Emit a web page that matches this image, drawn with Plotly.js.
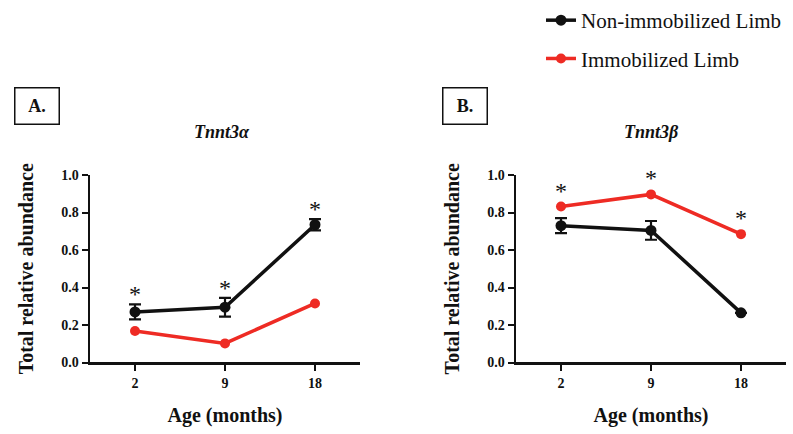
<!DOCTYPE html>
<html><head><meta charset="utf-8">
<script src="https://cdn.plot.ly/plotly-3.0.1.min.js"></script>
<style>html,body{margin:0;padding:0;background:#fff}#chart{width:793px;height:434px}</style>
</head><body><div id="chart"></div>
<script>
const ages = ['2', '9', '18'];
// Panel A: Tnnt3α
const aNonImm = [0.27, 0.295, 0.735];
const aNonImmErr = [0.04, 0.05, 0.03];
const aImm = [0.168, 0.102, 0.315];
const aSig = [true, true, true];
// Panel B: Tnnt3β
const bNonImm = [0.73, 0.705, 0.265];
const bNonImmErr = [0.04, 0.05, 0];
const bImm = [0.832, 0.897, 0.685];
const bSig = [true, true, true];

const seriesNames = ['Non-immobilized Limb', 'Immobilized Limb'];
const panelTitles = ['Tnnt3α', 'Tnnt3β'];
const panelLabels = ['A.', 'B.'];

const FONT = '"Times New Roman", "Liberation Serif", serif';
const BLACK = '#111111', RED = '#ee2b24';

function pair(xa, ya, non, nonErr, imm, showLeg) {
  return [
    {x: ages, y: imm, xaxis: xa, yaxis: ya, type: 'scatter', mode: 'lines+markers',
     name: seriesNames[1], legendgroup: 'imm', legendrank: 2, showlegend: showLeg,
     line: {color: RED, width: 3.5}, marker: {color: RED, size: 10}},
    {x: ages, y: non, xaxis: xa, yaxis: ya, type: 'scatter', mode: 'lines+markers',
     name: seriesNames[0], legendgroup: 'non', legendrank: 1, showlegend: showLeg,
     line: {color: BLACK, width: 3.5}, marker: {color: BLACK, size: 11},
     error_y: {type: 'data', array: nonErr, visible: true, color: BLACK, thickness: 2.2, width: 6}}
  ];
}

const data = [].concat(
  pair('x', 'y', aNonImm, aNonImmErr, aImm, true),
  pair('x2', 'y2', bNonImm, bNonImmErr, bImm, false)
);

function stars(xref, yref, sig, non, nonErr, imm) {
  const out = [];
  sig.forEach((s, i) => {
    if (!s) return;
    const topNon = non[i] + nonErr[i];
    const top = Math.max(topNon, imm[i]);
    const fromErr = topNon >= imm[i];
    out.push({xref: xref, yref: yref, x: i, y: top, text: '*', showarrow: false,
      xanchor: 'center', yanchor: 'middle', yshift: fromErr ? 10 : 16,
      font: {family: FONT, size: 24, color: BLACK}});
  });
  return out;
}

const annotations = [].concat(
  stars('x', 'y', aSig, aNonImm, aNonImmErr, aImm),
  stars('x2', 'y2', bSig, bNonImm, bNonImmErr, bImm),
  [
    {xref: 'paper', yref: 'paper', x: 222/793, y: 1 - 130/434, xanchor: 'center', yanchor: 'middle',
     text: '<b><i>' + panelTitles[0] + '</i></b>',
     showarrow: false, font: {family: FONT, size: 18, color: BLACK}},
    {xref: 'paper', yref: 'paper', x: 651/793, y: 1 - 130/434, xanchor: 'center', yanchor: 'middle',
     text: '<b><i>' + panelTitles[1] + '</i></b>',
     showarrow: false, font: {family: FONT, size: 18, color: BLACK}},
    {xref: 'paper', yref: 'paper', x: 36.5/793, y: 1 - 104/434, xanchor: 'center', yanchor: 'middle',
     text: '<b>' + panelLabels[0] + '</b>',
     showarrow: false, width: 41, height: 33, bordercolor: BLACK, borderwidth: 1.5, borderpad: 1,
     font: {family: FONT, size: 18, color: BLACK}},
    {xref: 'paper', yref: 'paper', x: 465/793, y: 1 - 104/434, xanchor: 'center', yanchor: 'middle',
     text: '<b>' + panelLabels[1] + '</b>',
     showarrow: false, width: 41, height: 33, bordercolor: BLACK, borderwidth: 1.5, borderpad: 1,
     font: {family: FONT, size: 18, color: BLACK}}
  ]
);

function xax(dom, anchor) {
  return {domain: dom, anchor: anchor, type: 'category', range: [-0.5, 2.5], fixedrange: true,
    showline: true, linecolor: BLACK, linewidth: 2.5, ticks: 'outside', ticklen: 6, tickwidth: 2,
    tickcolor: BLACK, showgrid: false, zeroline: false, automargin: false,
    tickfont: {family: FONT, size: 14, color: BLACK, weight: 'bold'},
    title: {text: 'Age (months)', standoff: 18, font: {family: FONT, size: 20, color: BLACK, weight: 'bold'}}};
}
function yax(anchor) {
  return {domain: [1 - 362/434, 1 - 173.3/434], anchor: anchor, range: [0, 1], dtick: 0.2,
    tickformat: '.1f', fixedrange: true,
    showline: true, linecolor: BLACK, linewidth: 2.5, ticks: 'outside', ticklen: 6, tickwidth: 2,
    tickcolor: BLACK, showgrid: false, zeroline: false, automargin: false,
    tickfont: {family: FONT, size: 14, color: BLACK, weight: 'bold'},
    title: {text: 'Total relative abundance', standoff: 22, font: {family: FONT, size: 20, color: BLACK, weight: 'bold'}}};
}

const layout = {
  width: 793, height: 434, margin: {l: 0, r: 0, t: 0, b: 0},
  paper_bgcolor: '#fff', plot_bgcolor: '#fff',
  xaxis: xax([90/793, 360/793], 'y'),
  yaxis: yax('x'),
  xaxis2: xax([516/793, 786/793], 'y2'),
  yaxis2: yax('x2'),
  showlegend: true,
  legend: {x: 541/793, y: 1 + 3/434, xanchor: 'left', yanchor: 'top', traceorder: 'grouped',
    tracegroupgap: 8, bgcolor: 'rgba(0,0,0,0)',
    font: {family: FONT, size: 21, color: BLACK}},
  annotations: annotations
};

Plotly.newPlot('chart', data, layout, {staticPlot: true, displayModeBar: false});
</script>
</body></html>
